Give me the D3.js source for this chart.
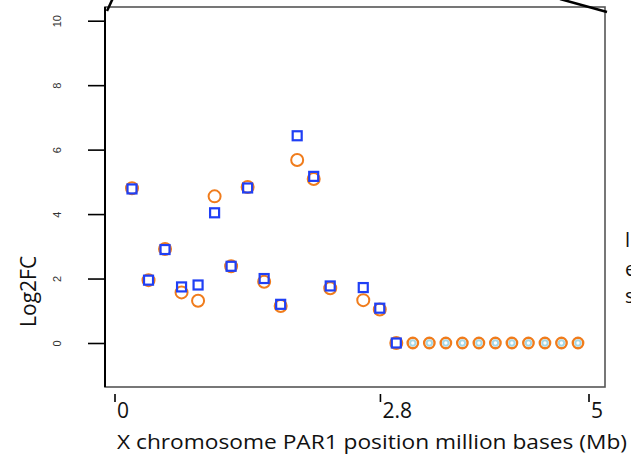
<!DOCTYPE html>
<html><head><meta charset="utf-8">
<script src="https://cdn.jsdelivr.net/npm/d3@7"></script>
<style>body{margin:0;background:#fff}svg{display:block}</style>
</head><body>
<script>
// ---- data ----
const positions = d3.range(28);            // marker index along PAR1
const log2fcA = [4.80,1.95,2.92,1.57,1.31,4.55,2.38,4.84,1.90,1.15,5.68,5.09,1.70,null,1.33,1.04,0,null,null,null,null,null,null,null,null,null,null,null];
const log2fcB = [4.78,1.95,2.90,1.74,1.80,4.04,2.38,4.81,2.00,1.20,6.43,5.17,1.77,null,1.72,1.08,0,null,null,null,null,null,null,null,null,null,null,null];
const log2fcZero = [null,null,null,null,null,null,null,null,null,null,null,null,null,null,null,null,null,0,0,0,0,0,0,0,0,0,0,0];
const yTicks = [0,2,4,6,8,10];
const mbTicks = [0,2.8,5];
const mbLabels = ["0","2.8","5"];
const sideText = ["l","e","s"];

const W=631,H=461;
const box={l:105,r:605,t:7,b:387};
const svg=d3.select("body").append("svg").attr("width",W).attr("height",H);

const x=d3.scaleLinear().domain([0,27]).range([132,578]);
const y=d3.scaleLinear().domain([0,10]).range([343,20.7]);
const xMb=d3.scaleLinear().domain([0,5]).range([115,589]);

// frame
svg.append("rect").attr("x",box.l).attr("y",box.t).attr("width",box.r-box.l).attr("height",box.b-box.t)
  .attr("fill","none").attr("stroke","#555").attr("stroke-width",1.6);
svg.append("line").attr("x1",box.l).attr("x2",box.l).attr("y1",box.t).attr("y2",box.b)
  .attr("stroke","#000").attr("stroke-width",2);

// zoom connector lines (decoration)
svg.append("line").attr("x1",107).attr("y1",11).attr("x2",113).attr("y2",-2).attr("stroke","#000").attr("stroke-width",2.5);
svg.append("line").attr("x1",560).attr("y1",-1).attr("x2",607).attr("y2",12).attr("stroke","#000").attr("stroke-width",2.5);

// y axis
const yAxis=d3.axisLeft(y).tickValues(yTicks).tickSize(17).tickPadding(0).tickFormat(d3.format("d"));
const ya=svg.append("g").attr("transform",`translate(${box.l},0)`).call(yAxis);
ya.select(".domain").remove();
ya.selectAll(".tick line").attr("stroke","#000").attr("stroke-width",1.6);
ya.selectAll(".tick text").attr("x",0).attr("y",0).attr("dy",null)
  .attr("transform","translate(-44,0) rotate(-90)").attr("text-anchor","middle")
  .attr("font-family","Liberation Sans, Arial, sans-serif").attr("font-size",11).attr("fill","#333");

svg.append("text").attr("transform",`translate(36,${y(1.6)}) rotate(-90)`).attr("text-anchor","middle")
  .attr("font-family","Open Sans, sans-serif").attr("font-size",21).attr("fill","#111").text("Log2FC");

// x Mb ticks
const xg=svg.append("g");
xg.selectAll("line").data(mbTicks).join("line")
  .attr("x1",d=>xMb(d)).attr("x2",d=>xMb(d)).attr("y1",394).attr("y2",402)
  .attr("stroke","#000").attr("stroke-width",1.6);
xg.selectAll("text").data(mbTicks).join("text")
  .attr("x",d=>xMb(d)+2).attr("y",418)
  .attr("font-family","Open Sans, sans-serif").attr("font-size",21).attr("fill","#111")
  .text((d,i)=>mbLabels[i]);

svg.append("text").attr("x",117).attr("y",449).attr("textLength",510).attr("lengthAdjust","spacingAndGlyphs")
  .attr("font-family","Open Sans, sans-serif").attr("font-size",20).attr("fill","#111")
  .text("X chromosome PAR1 position million bases (Mb)");

// side cut-off text
svg.selectAll("text.side").data(sideText).join("text").attr("class","side")
  .attr("x",625).attr("y",(d,i)=>[247,276,303][i])
  .attr("font-family","Open Sans, sans-serif").attr("font-size",20).attr("fill","#111").text(d=>d);

// points
const orange="#f07c1c", blue="#1f3ff5";
const idx=positions;
svg.append("g").selectAll("circle").data(idx.filter(i=>log2fcA[i]!==null)).join("circle")
  .attr("cx",i=>x(i)).attr("cy",i=>y(log2fcA[i])).attr("r",6)
  .attr("fill","none").attr("stroke",orange).attr("stroke-width",2);
const z=svg.append("g").selectAll("g").data(idx.filter(i=>log2fcZero[i]!==null)).join("g")
  .attr("transform",i=>`translate(${x(i)},${y(log2fcZero[i])})`);
z.append("circle").attr("r",5.2).attr("fill","none").attr("stroke",orange).attr("stroke-width",2.4);
z.append("circle").attr("r",2.7).attr("fill","#fff").attr("stroke","#a6d8e6").attr("stroke-width",2);
svg.append("g").selectAll("rect").data(idx.filter(i=>log2fcB[i]!==null)).join("rect")
  .attr("x",i=>x(i)-4.5).attr("y",i=>y(log2fcB[i])-4.5).attr("width",9).attr("height",9)
  .attr("fill","none").attr("stroke",blue).attr("stroke-width",2.2);
</script>
</body></html>
